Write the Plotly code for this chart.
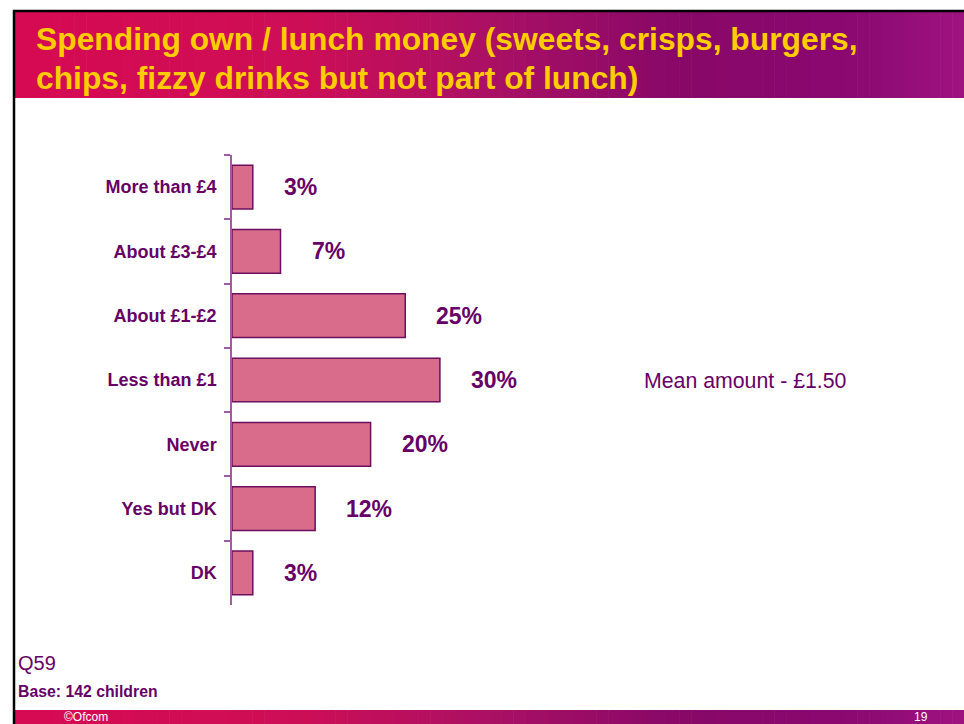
import plotly.graph_objects as go

categories = ["More than £4", "About £3-£4", "About £1-£2", "Less than £1", "Never", "Yes but DK", "DK"]
values = [3, 7, 25, 30, 20, 12, 3]
value_labels = ["3%", "7%", "25%", "30%", "20%", "12%", "3%"]

title_lines = ["Spending own / lunch money (sweets, crisps, burgers,",
               "chips, fizzy drinks but not part of lunch)"]
mean_note = "Mean amount - £1.50"
question = "Q59"
base_note = "Base: 142 children"
footer_left = "©Ofcom"
footer_right = "19"

W, H = 964, 724
L, R, T, B = 232, 39, 155, 119
PW, PH = W - L - R, H - T - B

def px(x):
    return (x - L) / PW

def py(y):
    return (H - B - y) / PH

PURPLE = "#660066"
FONT = "Liberation Sans, Arial"

fig = go.Figure()
fig.add_trace(go.Bar(
    x=values, y=categories, orientation="h", width=0.68,
    marker=dict(color="#D96C8B", line=dict(color="#6B0F5E", width=1.5)),
    hoverinfo="skip",
))

annotations = []
for c, v, t in zip(categories, values, value_labels):
    annotations.append(dict(x=v, y=c, xref="x", yref="y", text=f"<b>{t}</b>",
                            showarrow=False, xanchor="left", xshift=29,
                            font=dict(size=23, color=PURPLE, family=FONT)))

# header / footer gradient bands
shapes = []
stops = [(0.0, (214, 10, 82)), (0.3, (205, 14, 86)), (0.5, (170, 16, 100)),
         (0.7, (136, 8, 104)), (0.88, (138, 8, 112)), (1.0, (158, 18, 128))]

def col(f):
    for i in range(len(stops) - 1):
        a, ca = stops[i]
        b, cb = stops[i + 1]
        if a <= f <= b:
            k = (f - a) / (b - a)
            return "rgb(%d,%d,%d)" % tuple(round(ca[j] + (cb[j] - ca[j]) * k) for j in range(3))
    return "rgb(%d,%d,%d)" % stops[-1][1]

N = 80
x0, x1 = 15, W
for i in range(N):
    a = x0 + (x1 - x0) * i / N
    b = x0 + (x1 - x0) * (i + 1) / N + 0.6
    c = col(i / (N - 1))
    for (ya, yb) in [(12, 98), (710, 724)]:
        shapes.append(dict(type="rect", xref="paper", yref="paper",
                           x0=px(a), x1=px(b), y0=py(yb), y1=py(ya),
                           line=dict(width=0), fillcolor=c, layer="below"))
# slide border (left and top)
shapes.append(dict(type="line", xref="paper", yref="paper", x0=px(14), x1=px(14),
                   y0=py(724), y1=py(10), line=dict(color="black", width=2.5)))
shapes.append(dict(type="line", xref="paper", yref="paper", x0=px(13), x1=px(W),
                   y0=py(11), y1=py(11), line=dict(color="black", width=2.5)))

for line, yc in zip(title_lines, [39, 78]):
    annotations.append(dict(xref="paper", yref="paper", x=px(34), y=py(yc), text=f"<b>{line}</b>",
                            showarrow=False, xanchor="left", yanchor="middle",
                            font=dict(size=31.8, color="#FFCC00", family=FONT)))

annotations.append(dict(xref="paper", yref="paper", x=px(642), y=py(381), text=mean_note,
                        showarrow=False, xanchor="left", yanchor="middle",
                        font=dict(size=21.3, color=PURPLE, family=FONT)))
annotations.append(dict(xref="paper", yref="paper", x=px(16), y=py(663), text=question,
                        showarrow=False, xanchor="left", yanchor="middle",
                        font=dict(size=20, color=PURPLE, family=FONT)))
annotations.append(dict(xref="paper", yref="paper", x=px(16), y=py(691), text=f"<b>{base_note}</b>",
                        showarrow=False, xanchor="left", yanchor="middle",
                        font=dict(size=15.8, color=PURPLE, family=FONT)))
annotations.append(dict(xref="paper", yref="paper", x=px(62), y=py(716.5), text=footer_left,
                        showarrow=False, xanchor="left", yanchor="middle",
                        font=dict(size=12, color="white", family=FONT)))
annotations.append(dict(xref="paper", yref="paper", x=px(930), y=py(716.5), text=footer_right,
                        showarrow=False, xanchor="right", yanchor="middle",
                        font=dict(size=12, color="white", family=FONT)))

fig.update_layout(
    width=W, height=H, margin=dict(l=L, r=R, t=T, b=B, pad=0),
    paper_bgcolor="white", plot_bgcolor="white", showlegend=False,
    shapes=shapes, annotations=annotations,
    xaxis=dict(range=[0, 100], visible=False, fixedrange=True),
    yaxis=dict(type="category", autorange=False, range=[6.5, -0.5],
               categoryorder="array", categoryarray=categories,
               showline=True, linecolor="#A05AA0", linewidth=1.5,
               ticks="outside", ticklen=6, tickcolor="#A05AA0", tickwidth=1.5,
               tickson="boundaries", showgrid=False, zeroline=False,
               ticklabelstandoff=10, fixedrange=True,
               tickfont=dict(size=18, color=PURPLE, family=FONT, weight="bold")),
)

fig.write_html("out.html", config={"displayModeBar": False},
               post_script="document.body.style.margin='0px';")
